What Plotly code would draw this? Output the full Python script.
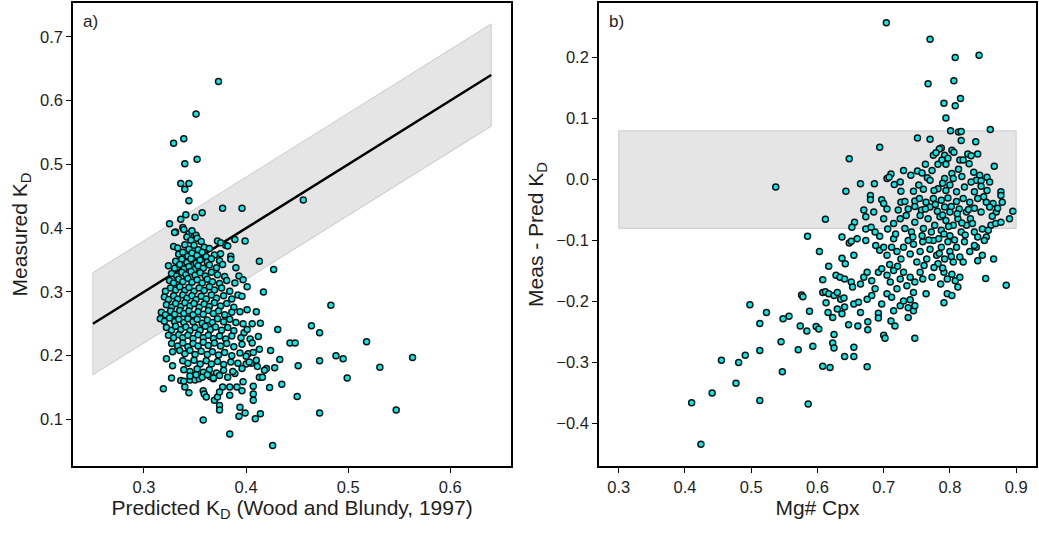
import plotly.graph_objects as go

# ---------------- Panel a data: predicted vs measured KD ----------------
a_points = [
    # outliers / sparse points
    (0.373,0.630),(0.351,0.579),(0.339,0.540),(0.329,0.533),(0.352,0.508),(0.340,0.501),(0.336,0.470),(0.344,0.470),
    (0.340,0.461),(0.344,0.443),(0.456,0.444),(0.377,0.431),(0.396,0.431),(0.357,0.424),(0.350,0.417),(0.341,0.421),
    (0.336,0.414),(0.325,0.407),(0.338,0.401),(0.331,0.394),(0.389,0.382),(0.399,0.380),(0.380,0.373),(0.413,0.348),
    (0.427,0.335),(0.417,0.300),(0.401,0.308),(0.483,0.279),(0.464,0.247),(0.472,0.236),(0.431,0.241),(0.410,0.269),
    (0.443,0.220),(0.448,0.220),(0.518,0.222),(0.424,0.208),(0.413,0.210),(0.488,0.200),(0.495,0.195),(0.563,0.197),
    (0.433,0.194),(0.472,0.192),(0.451,0.184),(0.531,0.182),(0.428,0.181),(0.499,0.165),(0.435,0.155),(0.423,0.150),
    (0.450,0.136),(0.547,0.115),(0.472,0.110),(0.414,0.109),(0.409,0.101),(0.399,0.110),(0.393,0.105),(0.394,0.119),
    (0.358,0.099),(0.384,0.077),(0.426,0.059),(0.319,0.148),(0.327,0.165),
    # lower part of cluster
    (0.336,0.161),(0.339,0.160),(0.340,0.151),(0.344,0.142),(0.345,0.162),(0.350,0.162),(0.354,0.164),(0.358,0.145),
    (0.359,0.140),(0.361,0.135),(0.365,0.167),(0.368,0.164),(0.369,0.130),(0.372,0.135),(0.374,0.122),(0.374,0.115),
    (0.377,0.151),(0.374,0.143),(0.384,0.138),(0.384,0.151),(0.389,0.172),(0.391,0.151),(0.396,0.145),(0.397,0.159),
    (0.407,0.152),(0.407,0.140),(0.407,0.130),(0.413,0.166),(0.416,0.166),(0.420,0.180),(0.418,0.177),(0.400,0.187),
    (0.405,0.188),(0.410,0.193),(0.402,0.203),(0.407,0.205),(0.411,0.183),
    # core cluster
    (0.330,0.393),(0.339,0.398),(0.344,0.391),(0.347,0.396),(0.351,0.389),
    (0.342,0.386),(0.346,0.381),(0.352,0.384),(0.356,0.379),(0.372,0.380),(0.375,0.377),
    (0.329,0.371),(0.333,0.369),(0.340,0.374),(0.344,0.367),(0.349,0.373),(0.353,0.366),(0.359,0.370),(0.364,0.368),(0.382,0.372),
    (0.334,0.359),(0.338,0.362),(0.343,0.356),(0.347,0.361),(0.352,0.357),(0.357,0.362),(0.361,0.355),(0.369,0.358),(0.375,0.360),(0.385,0.356),
    (0.331,0.348),(0.337,0.351),(0.342,0.346),(0.346,0.352),(0.351,0.345),(0.355,0.350),(0.362,0.347),(0.366,0.352),(0.374,0.349),(0.385,0.351),
    (0.324,0.341),(0.330,0.337),(0.335,0.343),(0.339,0.336),(0.344,0.340),(0.349,0.335),(0.353,0.341),(0.358,0.337),(0.364,0.342),(0.371,0.338),(0.377,0.343),(0.390,0.338),
    (0.327,0.329),(0.332,0.325),(0.337,0.331),(0.341,0.327),(0.346,0.332),(0.350,0.326),(0.355,0.330),(0.360,0.325),(0.366,0.331),(0.372,0.327),(0.379,0.324),(0.393,0.325),(0.397,0.319),
    (0.325,0.318),(0.329,0.314),(0.334,0.320),(0.338,0.316),(0.343,0.321),(0.347,0.315),(0.352,0.319),(0.357,0.314),(0.362,0.320),(0.367,0.316),(0.374,0.313),(0.381,0.318),(0.389,0.314),
    (0.321,0.301),(0.326,0.306),(0.331,0.303),(0.335,0.308),(0.340,0.302),(0.344,0.307),(0.349,0.301),(0.354,0.306),(0.359,0.302),(0.364,0.308),(0.369,0.303),(0.376,0.306),(0.384,0.301),(0.392,0.295),
    (0.320,0.292),(0.324,0.288),(0.329,0.294),(0.333,0.289),(0.338,0.295),(0.342,0.290),(0.347,0.294),(0.351,0.288),(0.356,0.293),(0.361,0.289),(0.366,0.295),(0.371,0.290),(0.378,0.294),(0.386,0.289),(0.396,0.293),
    (0.322,0.280),(0.327,0.276),(0.331,0.282),(0.336,0.277),(0.340,0.283),(0.345,0.278),(0.349,0.282),(0.354,0.276),(0.359,0.281),(0.364,0.277),(0.369,0.283),(0.375,0.278),(0.381,0.282),(0.388,0.276),
    (0.317,0.268),(0.321,0.264),(0.326,0.270),(0.330,0.265),(0.335,0.271),(0.339,0.266),(0.344,0.270),(0.348,0.264),(0.353,0.269),(0.358,0.265),(0.363,0.271),(0.368,0.266),(0.373,0.270),(0.379,0.264),(0.386,0.268),(0.394,0.269),(0.401,0.272),
    (0.316,0.258),(0.320,0.254),(0.325,0.259),(0.330,0.253),(0.334,0.257),(0.339,0.252),(0.343,0.258),(0.348,0.253),(0.352,0.257),(0.357,0.251),(0.362,0.256),(0.367,0.252),(0.372,0.258),(0.378,0.253),(0.384,0.257),(0.390,0.252),(0.397,0.250),(0.406,0.250),(0.414,0.251),
    (0.322,0.244),(0.327,0.240),(0.331,0.246),(0.336,0.241),(0.341,0.245),(0.345,0.239),(0.350,0.244),(0.355,0.240),(0.360,0.246),(0.365,0.241),(0.370,0.245),(0.376,0.240),(0.382,0.244),(0.388,0.239),(0.398,0.236),(0.401,0.241),
    (0.324,0.232),(0.329,0.228),(0.334,0.233),(0.338,0.228),(0.343,0.232),(0.348,0.227),(0.353,0.233),(0.358,0.228),(0.363,0.232),(0.368,0.227),(0.374,0.231),(0.380,0.226),(0.386,0.231),(0.395,0.228),(0.404,0.226),(0.412,0.230),
    (0.327,0.219),(0.333,0.215),(0.338,0.220),(0.343,0.214),(0.348,0.219),(0.353,0.215),(0.358,0.221),(0.363,0.216),(0.369,0.220),(0.375,0.215),(0.381,0.219),(0.388,0.214),(0.396,0.218),(0.406,0.220),
    (0.328,0.206),(0.335,0.208),(0.340,0.203),(0.345,0.208),(0.350,0.202),(0.356,0.207),(0.362,0.202),(0.367,0.206),(0.373,0.201),(0.379,0.205),(0.386,0.200),(0.394,0.204),(0.400,0.199),
    (0.322,0.195),(0.338,0.192),(0.343,0.188),(0.349,0.193),(0.355,0.187),(0.361,0.192),(0.366,0.187),(0.372,0.191),(0.378,0.186),(0.385,0.190),(0.392,0.188),(0.403,0.190),
    (0.328,0.184),(0.339,0.178),(0.345,0.175),(0.352,0.179),(0.358,0.174),(0.364,0.178),(0.371,0.173),(0.378,0.177),(0.387,0.175),(0.396,0.180),
    (0.345,0.168),(0.351,0.170),(0.357,0.166),(0.362,0.170),(0.368,0.165),(0.374,0.169),(0.382,0.166),
]
a_pred = [p[0] for p in a_points]
a_meas = [p[1] for p in a_points]

# 1:1 line and +-0.08 band
a_line_x = [0.25, 0.64]
a_band = 0.08

# ---------------- Panel b data: Mg# Cpx vs (Meas - Pred) ----------------
b_points = [
    (0.704,0.257),(0.770,0.230),(0.844,0.204),(0.808,0.200),(0.806,0.162),(0.767,0.157),(0.816,0.133),(0.791,0.125),
    (0.808,0.121),(0.794,0.101),(0.861,0.082),(0.801,0.080),(0.813,0.078),(0.817,0.079),(0.751,0.068),(0.770,0.066),
    (0.839,0.062),(0.817,0.064),(0.694,0.053),(0.787,0.052),(0.784,0.050),(0.648,0.034),(0.827,0.042),(0.842,0.042),
    (0.867,0.022),(0.537,-0.012),(0.643,-0.019),(0.612,-0.065),(0.585,-0.093),(0.603,-0.118),(0.617,-0.142),(0.608,-0.164),
    (0.608,-0.185),(0.612,-0.184),(0.576,-0.189),(0.578,-0.192),(0.498,-0.205),(0.523,-0.218),(0.513,-0.236),(0.548,-0.228),
    (0.557,-0.224),(0.574,-0.240),(0.588,-0.216),(0.584,-0.248),(0.598,-0.241),(0.602,-0.245),(0.593,-0.273),(0.545,-0.266),
    (0.513,-0.280),(0.571,-0.279),(0.491,-0.288),(0.455,-0.296),(0.481,-0.300),(0.547,-0.315),(0.608,-0.306),(0.619,-0.308),
    (0.477,-0.334),(0.441,-0.350),(0.410,-0.366),(0.513,-0.362),(0.586,-0.368),(0.424,-0.434),(0.675,-0.307),(0.641,-0.290),
    (0.655,-0.290),(0.655,-0.275),(0.623,-0.268),(0.625,-0.276),(0.647,-0.238),(0.661,-0.240),(0.676,-0.233),(0.676,-0.246),
    (0.700,-0.255),(0.702,-0.260),(0.747,-0.260),(0.625,-0.254),(0.711,-0.232),(0.717,-0.240),(0.692,-0.219),(0.692,-0.227),
    (0.775,0.040),(0.779,0.044),(0.792,0.040),(0.797,0.035),(0.803,0.048),(0.806,0.045),(0.815,0.032),
    (0.730,0.015),(0.705,0.002),(0.711,0.009),(0.708,0.004),(0.751,0.014),(0.758,0.011),(0.763,0.025),(0.773,0.015),
    (0.782,0.025),(0.788,0.032),(0.794,0.025),(0.803,0.010),(0.813,0.017),(0.820,0.032),(0.829,0.026),(0.832,0.039),
    (0.845,0.007),(0.856,0.004),(0.741,0.007),(0.766,0.003),(0.770,-0.001),(0.792,0.002),(0.805,0.002),(0.840,-0.001),
    (0.847,-0.002),(0.860,-0.004),(0.725,-0.004),(0.716,-0.008),
    (0.665,-0.007),(0.686,-0.007),(0.726,-0.019),(0.745,-0.019),(0.753,-0.009),(0.760,-0.016),(0.782,-0.015),(0.794,-0.018),
    (0.800,-0.009),(0.810,-0.020),(0.822,-0.012),(0.832,-0.004),(0.837,-0.020),(0.847,-0.011),(0.856,-0.018),(0.877,-0.020),
    (0.877,-0.026),(0.680,-0.026),(0.680,-0.033),(0.697,-0.033),(0.700,-0.039),(0.726,-0.037),(0.732,-0.036),(0.747,-0.035),
    (0.754,-0.031),(0.764,-0.037),(0.775,-0.031),(0.787,-0.034),(0.797,-0.030),(0.810,-0.036),(0.820,-0.031),(0.830,-0.037),
    (0.842,-0.031),(0.855,-0.037),(0.865,-0.039),(0.879,-0.037),(0.670,-0.050),(0.685,-0.053),(0.705,-0.048),(0.722,-0.050),
    (0.737,-0.048),(0.747,-0.044),(0.757,-0.050),(0.770,-0.045),(0.781,-0.052),(0.792,-0.045),(0.800,-0.053),(0.814,-0.048),
    (0.825,-0.053),(0.837,-0.047),(0.847,-0.053),(0.860,-0.045),(0.870,-0.053),(0.895,-0.052),
    (0.656,-0.070),(0.652,-0.078),(0.673,-0.061),(0.673,-0.081),(0.681,-0.078),(0.687,-0.086),(0.694,-0.093),(0.700,-0.064),
    (0.706,-0.081),(0.715,-0.072),(0.725,-0.064),(0.732,-0.080),(0.742,-0.086),(0.747,-0.070),(0.755,-0.059),(0.760,-0.080),
    (0.767,-0.064),(0.772,-0.086),(0.777,-0.075),(0.785,-0.061),(0.787,-0.083),(0.794,-0.067),(0.800,-0.092),(0.805,-0.075),
    (0.812,-0.064),(0.817,-0.086),(0.825,-0.075),(0.831,-0.064),(0.837,-0.086),(0.842,-0.094),(0.849,-0.081),(0.855,-0.094),
    (0.862,-0.075),(0.869,-0.072),(0.877,-0.070),(0.890,-0.064),(0.637,-0.094),
    (0.648,-0.104),(0.651,-0.101),(0.655,-0.124),(0.637,-0.129),(0.642,-0.138),(0.660,-0.097),(0.673,-0.100),(0.688,-0.108),
    (0.694,-0.116),(0.700,-0.111),(0.705,-0.124),(0.712,-0.111),(0.715,-0.097),(0.720,-0.118),(0.726,-0.130),(0.730,-0.111),
    (0.737,-0.100),(0.740,-0.122),(0.745,-0.106),(0.750,-0.135),(0.755,-0.118),(0.759,-0.102),(0.765,-0.130),(0.770,-0.114),
    (0.775,-0.100),(0.780,-0.124),(0.782,-0.138),(0.787,-0.111),(0.792,-0.130),(0.797,-0.102),(0.800,-0.118),(0.805,-0.135),
    (0.810,-0.111),(0.815,-0.127),(0.822,-0.102),(0.830,-0.118),(0.840,-0.111),(0.842,-0.133),(0.849,-0.124),(0.852,-0.100),
    (0.866,-0.130),(0.837,-0.108),(0.820,-0.135),
    (0.628,-0.157),(0.634,-0.160),(0.641,-0.163),(0.651,-0.168),(0.653,-0.176),(0.665,-0.171),(0.670,-0.160),(0.675,-0.152),
    (0.682,-0.166),(0.687,-0.179),(0.692,-0.152),(0.697,-0.146),(0.705,-0.157),(0.710,-0.168),(0.715,-0.149),(0.720,-0.179),
    (0.725,-0.163),(0.730,-0.152),(0.735,-0.174),(0.740,-0.160),(0.745,-0.185),(0.747,-0.168),(0.755,-0.152),(0.759,-0.163),
    (0.764,-0.187),(0.773,-0.160),(0.786,-0.171),(0.791,-0.152),(0.796,-0.163),(0.803,-0.155),(0.808,-0.166),(0.812,-0.176),
    (0.815,-0.160),(0.854,-0.162),(0.885,-0.173),(0.796,-0.187),(0.803,-0.190),
    (0.617,-0.187),(0.625,-0.190),(0.630,-0.185),(0.635,-0.196),(0.640,-0.194),(0.613,-0.202),(0.616,-0.218),(0.623,-0.226),
    (0.630,-0.212),(0.637,-0.220),(0.641,-0.209),(0.655,-0.204),(0.662,-0.201),(0.665,-0.218),(0.675,-0.196),(0.682,-0.190),
    (0.697,-0.204),(0.705,-0.187),(0.712,-0.193),(0.715,-0.215),(0.725,-0.207),(0.730,-0.199),(0.737,-0.210),(0.740,-0.197),
    (0.745,-0.215),(0.747,-0.207),(0.737,-0.226),(0.791,-0.202),
    (0.758,-0.092),(0.763,-0.048),(0.768,-0.099),(0.778,-0.041),(0.783,-0.097),(0.789,-0.058),(0.791,-0.089),(0.798,-0.077),
    (0.802,-0.044),(0.807,-0.099),(0.811,-0.056),(0.818,-0.071),(0.823,-0.091),(0.828,-0.049),(0.834,-0.072),(0.776,-0.144),
    (0.784,-0.121),(0.789,-0.145),(0.802,-0.126),(0.761,-0.141),(0.744,-0.094),(0.734,-0.059),(0.718,-0.089),(0.709,-0.139),
    (0.721,-0.142),(0.776,-0.018),(0.789,-0.006),(0.818,0.005),(0.836,0.012),(0.851,-0.028),(0.864,-0.060),(0.872,-0.047),
    (0.858,-0.083),
]
b_mg = [p[0] for p in b_points]
b_diff = [p[1] for p in b_points]

b_band_x = [0.3, 0.9]
b_band_y = [-0.08, 0.08]

# tick values
a_xticks = [0.3, 0.4, 0.5, 0.6]
a_yticks = [0.1, 0.2, 0.3, 0.4, 0.5, 0.6, 0.7]
b_xticks = [0.3, 0.4, 0.5, 0.6, 0.7, 0.8, 0.9]
b_yticks = [-0.4, -0.3, -0.2, -0.1, 0.0, 0.1, 0.2]

FONT = "Liberation Sans, Arial, sans-serif"
TXT = "#1e1e1e"
BAND_FILL = "#e5e5e5"
BAND_EDGE = "#d2d2d2"
MARKER = dict(size=6, color="#00eeee", line=dict(color="#111111", width=1.5))

fig = go.Figure()

# panel a band
x0, x1 = a_line_x
fig.add_trace(go.Scatter(
    x=[x0, x1, x1, x0, x0],
    y=[x0 - a_band, x1 - a_band, x1 + a_band, x0 + a_band, x0 - a_band],
    fill="toself", fillcolor=BAND_FILL, mode="lines",
    line=dict(color=BAND_EDGE, width=1.2), hoverinfo="skip", showlegend=False,
    xaxis="x", yaxis="y"))
fig.add_trace(go.Scatter(x=a_line_x, y=a_line_x, mode="lines",
                         line=dict(color="black", width=2.5), showlegend=False,
                         xaxis="x", yaxis="y"))
fig.add_trace(go.Scatter(x=a_pred, y=a_meas, mode="markers", marker=MARKER,
                         showlegend=False, xaxis="x", yaxis="y"))

# panel b band
bx0, bx1 = b_band_x
by0, by1 = b_band_y
fig.add_trace(go.Scatter(
    x=[bx0, bx1, bx1, bx0, bx0], y=[by0, by0, by1, by1, by0],
    fill="toself", fillcolor=BAND_FILL, mode="lines",
    line=dict(color=BAND_EDGE, width=1.2), hoverinfo="skip", showlegend=False,
    xaxis="x2", yaxis="y2"))
fig.add_trace(go.Scatter(x=b_mg, y=b_diff, mode="markers", marker=MARKER,
                         showlegend=False, xaxis="x2", yaxis="y2"))

axis_common = dict(showline=True, linecolor="black", linewidth=1.5, mirror=True,
                   ticks="outside", ticklen=5, tickwidth=1.2, tickcolor="black",
                   showgrid=False, zeroline=False,
                   tickfont=dict(family=FONT, size=16.5, color=TXT))

TITLE_FONT = dict(family=FONT, size=21, color=TXT)

L, R, T, B = 73, 1, 3, 78
W, H = 1039, 544
pw = W - L - R
dom_a = [0, (512 - L) / pw]
dom_b = [(600 - L) / pw, 1.0]

fig.update_layout(
    width=W, height=H,
    margin=dict(l=L, r=R, t=T, b=B),
    paper_bgcolor="white", plot_bgcolor="white",
    font=dict(family=FONT, color=TXT),
    xaxis=dict(domain=dom_a, range=[0.2305, 0.6595], tickvals=a_xticks, tickformat=".1f",
               title=dict(text="Predicted K<sub>D</sub> (Wood and Blundy, 1997)",
                          font=TITLE_FONT, standoff=3),
               anchor="y", **axis_common),
    yaxis=dict(domain=[0, 1], range=[0.027, 0.753], tickvals=a_yticks, tickformat=".1f",
               title=dict(text="Measured K<sub>D</sub>", font=TITLE_FONT, standoff=7),
               anchor="x", **axis_common),
    xaxis2=dict(domain=dom_b, range=[0.27, 0.93], tickvals=b_xticks, tickformat=".1f",
                title=dict(text="Mg# Cpx", font=TITLE_FONT, standoff=3),
                anchor="y2", **axis_common),
    yaxis2=dict(domain=[0, 1], range=[-0.4695, 0.2895], tickvals=b_yticks, tickformat=".1f",
                title=dict(text="Meas - Pred K<sub>D</sub>", font=TITLE_FONT, standoff=7),
                anchor="x2", **axis_common),
    annotations=[
        dict(text="a)", xref="x domain", yref="y domain", x=0.018, y=0.985,
             xanchor="left", yanchor="top", showarrow=False,
             font=dict(family=FONT, size=17, color=TXT)),
        dict(text="b)", xref="x2 domain", yref="y2 domain", x=0.018, y=0.985,
             xanchor="left", yanchor="top", showarrow=False,
             font=dict(family=FONT, size=17, color=TXT)),
    ],
)

fig.write_html("out.html")
